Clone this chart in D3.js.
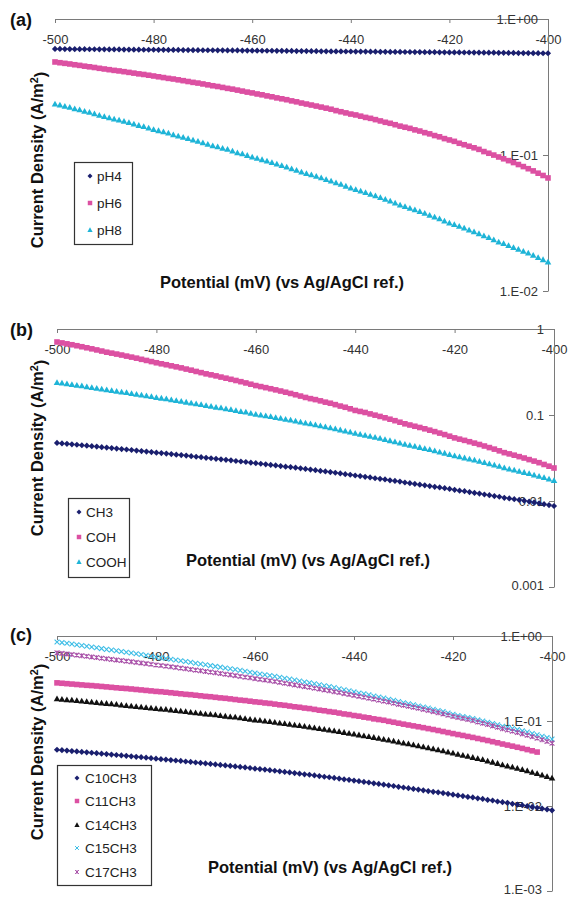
<!DOCTYPE html>
<html>
<head>
<meta charset="utf-8">
<script src="https://cdn.jsdelivr.net/npm/d3@7"></script>
<style>
  body { margin: 0; background: #fff; }
  svg { display: block; }
  text { font-family: Arial, "Liberation Sans", sans-serif; }
</style>
</head>
<body>
<svg id="chart" width="568" height="899"></svg>
<script>
// Potentiodynamic sweeps, current density (A/m²) every 1 mV from -500 mV.
const potentialStart = -500;
const xTicks = [-500, -480, -460, -440, -420, -400];

// (a) effect of pH
const legendA = ["pH4", "pH6", "pH8"];
const pH4 = [0.602,0.602,0.601,0.601,0.600,0.600,0.600,0.599,0.599,0.598,
0.598,0.597,0.597,0.597,0.596,0.596,0.595,0.595,0.594,0.594,
0.594,0.593,0.593,0.592,0.592,0.592,0.591,0.591,0.590,0.590,
0.589,0.589,0.589,0.588,0.588,0.587,0.587,0.587,0.586,0.586,
0.585,0.585,0.584,0.584,0.584,0.583,0.583,0.582,0.582,0.581,
0.581,0.581,0.580,0.580,0.579,0.579,0.578,0.578,0.578,0.577,
0.577,0.576,0.576,0.576,0.575,0.575,0.574,0.574,0.573,0.573,
0.573,0.572,0.572,0.571,0.571,0.570,0.570,0.570,0.569,0.569,
0.568,0.568,0.568,0.567,0.567,0.566,0.566,0.565,0.565,0.565,
0.564,0.564,0.563,0.563,0.562,0.562,0.562,0.561,0.561,0.560,
0.560];
const pH6 = [0.483,0.477,0.472,0.467,0.461,0.456,0.450,0.445,0.440,0.434,
0.429,0.424,0.419,0.415,0.410,0.405,0.400,0.395,0.391,0.386,
0.381,0.376,0.371,0.366,0.362,0.357,0.352,0.347,0.342,0.338,
0.333,0.328,0.323,0.319,0.314,0.309,0.305,0.300,0.295,0.290,
0.286,0.281,0.277,0.272,0.268,0.263,0.259,0.255,0.250,0.246,
0.241,0.237,0.233,0.229,0.225,0.221,0.217,0.212,0.208,0.204,
0.200,0.197,0.193,0.189,0.186,0.182,0.178,0.174,0.171,0.167,
0.163,0.160,0.157,0.153,0.150,0.146,0.143,0.139,0.136,0.132,
0.129,0.126,0.122,0.119,0.116,0.113,0.110,0.106,0.103,0.0999,
0.0967,0.0938,0.0909,0.0880,0.0851,0.0822,0.0793,0.0764,0.0735,0.0707,
0.0678];
const pH8 = [0.237,0.233,0.228,0.224,0.219,0.215,0.210,0.206,0.201,0.196,
0.192,0.188,0.184,0.181,0.177,0.173,0.169,0.165,0.162,0.158,
0.154,0.151,0.148,0.145,0.141,0.138,0.135,0.132,0.129,0.126,
0.123,0.120,0.117,0.115,0.112,0.110,0.107,0.104,0.102,0.0993,
0.0967,0.0945,0.0924,0.0902,0.0880,0.0859,0.0837,0.0815,0.0793,0.0772,
0.0750,0.0732,0.0714,0.0697,0.0679,0.0661,0.0643,0.0625,0.0608,0.0590,
0.0572,0.0558,0.0543,0.0529,0.0515,0.0501,0.0486,0.0472,0.0458,0.0443,
0.0429,0.0418,0.0406,0.0395,0.0384,0.0373,0.0361,0.0350,0.0339,0.0327,
0.0316,0.0308,0.0299,0.0290,0.0281,0.0273,0.0264,0.0255,0.0247,0.0238,
0.0229,0.0223,0.0216,0.0209,0.0203,0.0196,0.0190,0.0183,0.0176,0.0170,
0.0163];
const yTicksA = [1, 0.1, 0.01];
const yLabelsA = ["1.E+00", "1.E-01", "1.E-02"];

// (b) effect of terminal group
const legendB = ["CH3", "COH", "COOH"];
const CH3 = [0.0473,0.0467,0.0462,0.0456,0.0451,0.0445,0.0440,0.0434,0.0429,0.0423,
0.0418,0.0413,0.0407,0.0402,0.0397,0.0392,0.0386,0.0381,0.0376,0.0371,
0.0365,0.0361,0.0356,0.0351,0.0346,0.0342,0.0337,0.0332,0.0327,0.0323,
0.0318,0.0314,0.0309,0.0305,0.0301,0.0297,0.0292,0.0288,0.0284,0.0279,
0.0275,0.0271,0.0267,0.0263,0.0259,0.0255,0.0251,0.0248,0.0244,0.0240,
0.0236,0.0232,0.0228,0.0224,0.0221,0.0217,0.0213,0.0209,0.0205,0.0202,
0.0198,0.0195,0.0191,0.0188,0.0184,0.0181,0.0178,0.0174,0.0171,0.0168,
0.0164,0.0161,0.0158,0.0155,0.0152,0.0149,0.0146,0.0144,0.0141,0.0138,
0.0135,0.0132,0.0130,0.0127,0.0124,0.0122,0.0119,0.0117,0.0114,0.0112,
0.0109,0.0107,0.0105,0.0103,0.0101,0.00984,0.00962,0.00940,0.00918,0.00897,
0.00875];
const COH = [0.706,0.689,0.672,0.656,0.639,0.622,0.605,0.588,0.571,0.554,
0.537,0.524,0.511,0.498,0.484,0.471,0.458,0.444,0.431,0.418,
0.405,0.394,0.384,0.373,0.363,0.353,0.342,0.332,0.321,0.311,
0.301,0.293,0.285,0.276,0.268,0.260,0.252,0.244,0.236,0.228,
0.220,0.214,0.208,0.202,0.196,0.190,0.184,0.178,0.172,0.166,
0.160,0.155,0.151,0.146,0.141,0.137,0.132,0.127,0.123,0.118,
0.113,0.110,0.107,0.103,0.0996,0.0962,0.0928,0.0893,0.0859,0.0824,
0.0790,0.0765,0.0740,0.0716,0.0691,0.0666,0.0641,0.0616,0.0592,0.0567,
0.0542,0.0524,0.0507,0.0489,0.0471,0.0454,0.0436,0.0418,0.0401,0.0383,
0.0365,0.0353,0.0341,0.0328,0.0316,0.0303,0.0291,0.0279,0.0266,0.0254,
0.0242];
const COOH = [0.239,0.235,0.230,0.226,0.222,0.218,0.213,0.209,0.205,0.201,
0.196,0.193,0.189,0.185,0.182,0.178,0.174,0.171,0.167,0.164,
0.160,0.157,0.154,0.150,0.147,0.144,0.141,0.138,0.135,0.132,
0.129,0.126,0.123,0.121,0.118,0.116,0.113,0.110,0.108,0.105,
0.102,0.100,0.0981,0.0959,0.0937,0.0916,0.0894,0.0872,0.0850,0.0829,
0.0807,0.0788,0.0768,0.0749,0.0729,0.0710,0.0691,0.0671,0.0652,0.0632,
0.0613,0.0597,0.0582,0.0566,0.0550,0.0535,0.0519,0.0503,0.0487,0.0472,
0.0456,0.0444,0.0432,0.0420,0.0408,0.0396,0.0384,0.0372,0.0360,0.0347,
0.0335,0.0326,0.0317,0.0308,0.0299,0.0289,0.0280,0.0271,0.0262,0.0253,
0.0243,0.0236,0.0229,0.0222,0.0215,0.0208,0.0201,0.0194,0.0187,0.0180,
0.0173];
const yTicksB = [1, 0.1, 0.01, 0.001];
const yLabelsB = ["1", "0.1", "0.01", "0.001"];

// (c) effect of alkyl chain length
const legendC = ["C10CH3", "C11CH3", "C14CH3", "C15CH3", "C17CH3"];
const C10CH3 = [0.0459,0.0454,0.0449,0.0443,0.0438,0.0433,0.0428,0.0423,0.0418,0.0413,
0.0408,0.0403,0.0398,0.0394,0.0389,0.0384,0.0379,0.0375,0.0370,0.0365,
0.0360,0.0356,0.0352,0.0347,0.0343,0.0339,0.0334,0.0330,0.0325,0.0321,
0.0317,0.0313,0.0308,0.0304,0.0300,0.0296,0.0292,0.0288,0.0284,0.0280,
0.0275,0.0272,0.0268,0.0264,0.0260,0.0256,0.0252,0.0248,0.0244,0.0240,
0.0236,0.0233,0.0229,0.0225,0.0221,0.0218,0.0214,0.0210,0.0206,0.0203,
0.0199,0.0196,0.0192,0.0189,0.0185,0.0182,0.0178,0.0175,0.0172,0.0168,
0.0165,0.0162,0.0159,0.0156,0.0153,0.0150,0.0147,0.0145,0.0142,0.0139,
0.0136,0.0133,0.0131,0.0128,0.0126,0.0123,0.0121,0.0118,0.0116,0.0113,
0.0111,0.0109,0.0106,0.0104,0.0102,0.00998,0.00976,0.00954,0.00932,0.00911,
0.00889];
const C11CH3 = [0.281,0.278,0.275,0.272,0.269,0.266,0.263,0.261,0.258,0.255,
0.252,0.249,0.246,0.243,0.241,0.238,0.235,0.232,0.229,0.226,
0.223,0.221,0.218,0.215,0.212,0.209,0.206,0.204,0.201,0.198,
0.195,0.193,0.190,0.187,0.185,0.182,0.179,0.176,0.174,0.171,
0.168,0.166,0.163,0.161,0.158,0.155,0.153,0.150,0.147,0.145,
0.142,0.140,0.137,0.134,0.132,0.129,0.127,0.124,0.121,0.119,
0.116,0.114,0.111,0.109,0.106,0.104,0.102,0.0991,0.0967,0.0942,
0.0918,0.0897,0.0876,0.0856,0.0835,0.0814,0.0794,0.0773,0.0752,0.0731,
0.0711,0.0693,0.0676,0.0658,0.0641,0.0623,0.0606,0.0589,0.0571,0.0554,
0.0536,0.0521,0.0506,0.0491,0.0476,0.0461,0.0446,0.0431];
const C14CH3 = [0.183,0.180,0.178,0.176,0.174,0.172,0.169,0.167,0.165,0.163,
0.161,0.159,0.157,0.154,0.152,0.150,0.148,0.146,0.144,0.142,
0.140,0.138,0.137,0.135,0.133,0.131,0.129,0.127,0.125,0.123,
0.121,0.120,0.118,0.116,0.114,0.112,0.111,0.109,0.107,0.105,
0.103,0.102,0.0999,0.0983,0.0966,0.0949,0.0932,0.0915,0.0899,0.0882,
0.0865,0.0849,0.0832,0.0816,0.0800,0.0783,0.0767,0.0751,0.0734,0.0718,
0.0702,0.0686,0.0671,0.0656,0.0641,0.0626,0.0611,0.0596,0.0581,0.0566,
0.0551,0.0538,0.0524,0.0511,0.0498,0.0485,0.0471,0.0458,0.0445,0.0432,
0.0419,0.0407,0.0396,0.0385,0.0373,0.0362,0.0351,0.0339,0.0328,0.0317,
0.0305,0.0296,0.0287,0.0277,0.0268,0.0259,0.0250,0.0241,0.0231,0.0222,
0.0213];
const C15CH3 = [0.851,0.836,0.820,0.805,0.789,0.774,0.758,0.742,0.727,0.711,
0.696,0.683,0.670,0.657,0.644,0.631,0.618,0.605,0.592,0.579,
0.566,0.555,0.544,0.533,0.522,0.512,0.501,0.490,0.479,0.468,
0.458,0.448,0.439,0.430,0.421,0.412,0.403,0.394,0.384,0.375,
0.366,0.358,0.350,0.343,0.335,0.327,0.319,0.311,0.303,0.295,
0.287,0.281,0.274,0.267,0.260,0.254,0.247,0.240,0.233,0.227,
0.220,0.214,0.209,0.203,0.197,0.192,0.186,0.180,0.175,0.169,
0.164,0.159,0.155,0.150,0.146,0.142,0.137,0.133,0.129,0.124,
0.120,0.116,0.113,0.110,0.107,0.103,0.0999,0.0967,0.0934,0.0901,
0.0868,0.0842,0.0816,0.0791,0.0765,0.0740,0.0714,0.0689,0.0663,0.0637,
0.0612];
const C17CH3 = [0.633,0.624,0.614,0.605,0.596,0.586,0.577,0.567,0.558,0.548,
0.539,0.531,0.522,0.514,0.506,0.498,0.489,0.481,0.473,0.465,
0.456,0.449,0.442,0.434,0.427,0.419,0.412,0.404,0.397,0.390,
0.382,0.376,0.369,0.362,0.355,0.349,0.342,0.335,0.328,0.322,
0.315,0.309,0.303,0.297,0.291,0.285,0.278,0.272,0.266,0.260,
0.254,0.249,0.243,0.238,0.232,0.227,0.221,0.216,0.210,0.205,
0.200,0.195,0.190,0.185,0.181,0.176,0.171,0.167,0.162,0.157,
0.153,0.149,0.145,0.141,0.137,0.133,0.129,0.125,0.121,0.117,
0.113,0.110,0.107,0.104,0.101,0.0973,0.0940,0.0908,0.0876,0.0843,
0.0811,0.0785,0.0759,0.0732,0.0706,0.0680,0.0654,0.0628,0.0601,0.0575,
0.0549];
const yTicksC = [1, 0.1, 0.01, 0.001];
const yLabelsC = ["1.E+00", "1.E-01", "1.E-02", "1.E-03"];

const xTitle = "Potential (mV) (vs Ag/AgCl ref.)";

// ---- styling ----
const NAVY = "#1a1f6e", PINK = "#dc50a2", CYAN = "#1eb4d7",
      BLACK = "#111111", LIGHTCYAN = "#3cbde6", PURPLE = "#a952a9";
const AXIS = "#7a7a7a", TICKTEXT = "#333333";

// marker shapes, r = half extent in px
function markerPath(type, r) {
  switch (type) {
    case "diamond": return `M0,${-r}L${r},0L0,${r}L${-r},0Z`;
    case "square": return `M${-r},${-r}H${r}V${r}H${-r}Z`;
    case "triangle": return `M0,${-r}L${r},${r * 0.75}L${-r},${r * 0.75}Z`;
    case "x": return `M${-r},${-r}L${r},${r}M${-r},${r}L${r},${-r}`;
    case "star": return `M${-r},${-r}L${r},${r}M${-r},${r}L${r},${-r}M0,${-r}V${r}`;
  }
}
const stroked = t => t === "x" || t === "star";
const markerSize = { diamond: 3.1, square: 2.8, triangle: 3.3, x: 2.4, star: 2.4 };

const panels = [
  {
    tag: "(a)", tagY: 25.5, xr: [55, 548], yr: [19, 291], yDomain: [1, 0.01],
    yTicks: yTicksA, yLabels: yLabelsA, names: legendA,
    values: [pH4, pH6, pH8], markers: ["diamond", "square", "triangle"], colors: [NAVY, PINK, CYAN],
    legend: { x: 74, y: 162, w: 58, h: 82, mx: 90, tx: 97, rows: [176, 203, 230] },
    xTitlePos: [282, 288], yTitlePos: [43, 160]
  },
  {
    tag: "(b)", tagY: 335.5, xr: [57, 554], yr: [329, 587], yDomain: [1, 0.001],
    yTicks: yTicksB, yLabels: yLabelsB, names: legendB,
    values: [CH3, COH, COOH], markers: ["diamond", "square", "triangle"], colors: [NAVY, PINK, CYAN],
    legend: { x: 68, y: 498, w: 61, h: 79, mx: 79, tx: 86, rows: [512, 537, 562] },
    xTitlePos: [308, 566], yTitlePos: [43, 448]
  },
  {
    tag: "(c)", tagY: 641, xr: [57, 552], yr: [636, 891], yDomain: [1, 0.001],
    yTicks: yTicksC, yLabels: yLabelsC, names: legendC,
    values: [C10CH3, C11CH3, C14CH3, C15CH3, C17CH3],
    markers: ["diamond", "square", "triangle", "x", "star"],
    colors: [NAVY, PINK, BLACK, LIGHTCYAN, PURPLE],
    legend: { x: 57, y: 765, w: 94, h: 120, mx: 77, tx: 85, rows: [778, 801, 825, 848, 872] },
    xTitlePos: [330, 873], yTitlePos: [43, 752]
  }
];

const svg = d3.select("#chart");
svg.append("rect").attr("width", 568).attr("height", 899).attr("fill", "#fff");

panels.forEach(p => {
  const g = svg.append("g");
  const x = d3.scaleLinear().domain([-500, -400]).range(p.xr);
  const y = d3.scaleLog().domain(p.yDomain).range(p.yr);

  // top potential axis, labels hanging below the line
  const xa = g.append("g").attr("transform", `translate(0,${p.yr[0]})`)
    .call(d3.axisBottom(x).tickValues(xTicks).tickFormat(d => String(d))
      .tickSize(4).tickSizeOuter(0).tickPadding(12));
  // right log axis
  const ya = g.append("g").attr("transform", `translate(${p.xr[1]},0)`)
    .call(d3.axisLeft(y).tickValues(p.yTicks).tickFormat((d, i) => p.yLabels[i])
      .tickSize(5).tickSizeOuter(0).tickPadding(5));
  [xa, ya].forEach(a => {
    a.select(".domain").attr("stroke", AXIS);
    a.selectAll(".tick line").attr("stroke", AXIS);
    a.selectAll(".tick text").attr("fill", TICKTEXT).attr("font-size", 13)
      .attr("font-family", "Arial, 'Liberation Sans', sans-serif");
  });
  // keep the lowest decade label inside the frame
  ya.selectAll(".tick text").filter((d, i, n) => i === n.length - 1 && d < 0.005)
    .attr("dy", "0.2em");

  // data markers
  p.values.forEach((vals, si) => {
    const type = p.markers[si], col = p.colors[si];
    g.append("g").selectAll("path").data(vals).join("path")
      .attr("transform", (d, i) => `translate(${x(potentialStart + i)},${y(d)})`)
      .attr("d", markerPath(type, markerSize[type]))
      .attr("fill", stroked(type) ? "none" : col)
      .attr("stroke", stroked(type) ? col : "none")
      .attr("stroke-width", 1.1);
  });

  // legend
  const L = p.legend;
  g.append("rect").attr("x", L.x + 0.5).attr("y", L.y + 0.5).attr("width", L.w).attr("height", L.h)
    .attr("fill", "#fff").attr("stroke", "#333").attr("stroke-width", 1.2);
  p.names.forEach((n, i) => {
    const type = p.markers[i], col = p.colors[i];
    g.append("path").attr("transform", `translate(${L.mx},${L.rows[i]})`)
      .attr("d", markerPath(type, markerSize[type] * 0.8))
      .attr("fill", stroked(type) ? "none" : col)
      .attr("stroke", stroked(type) ? col : "none").attr("stroke-width", 1);
    g.append("text").attr("x", L.tx).attr("y", L.rows[i] + 5).attr("font-size", 13.5)
      .attr("fill", "#222").text(n);
  });

  // titles
  g.append("text").attr("x", p.xTitlePos[0]).attr("y", p.xTitlePos[1])
    .attr("text-anchor", "middle").attr("font-size", 16.5).attr("font-weight", "bold")
    .attr("fill", "#111").text(xTitle);
  const yt = g.append("text").attr("transform", `translate(${p.yTitlePos[0]},${p.yTitlePos[1]}) rotate(-90)`)
    .attr("text-anchor", "middle").attr("font-size", 16.5).attr("font-weight", "bold").attr("fill", "#111");
  yt.append("tspan").text("Current Density (A/m");
  yt.append("tspan").attr("dy", "-0.45em").attr("font-size", "0.65em").text("2");
  yt.append("tspan").attr("dy", "0.45em").text(")");

  g.append("text").attr("x", 10).attr("y", p.tagY).attr("font-size", 18)
    .attr("font-weight", "bold").attr("fill", "#111").text(p.tag);
});
</script>
</body>
</html>
